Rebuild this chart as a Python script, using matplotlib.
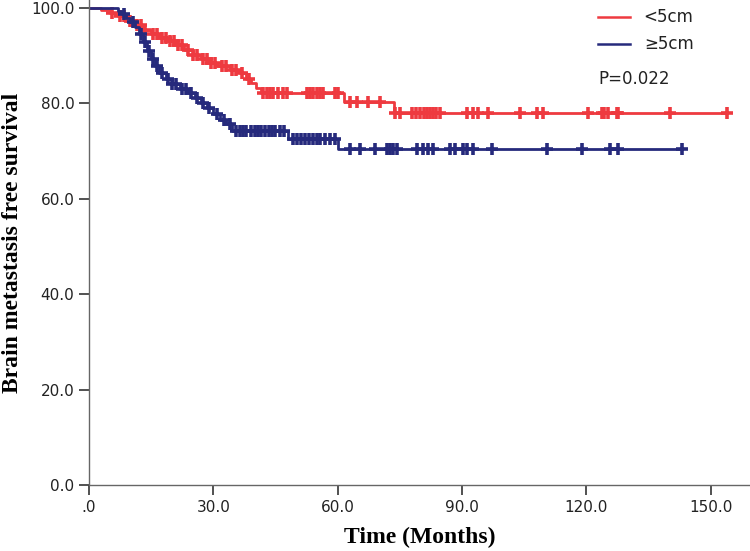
import numpy as np
import matplotlib
matplotlib.use("Agg")
import matplotlib.pyplot as plt

# step points (time, survival %) per group
red_t = [0, 3, 5, 7, 9, 11, 13, 15, 17, 19, 21, 23, 25, 27, 29, 31, 34, 36.5, 38, 39.2, 40.2, 41.5, 61.5, 73.5]
red_s = [100, 99.6, 99.0, 98.3, 97.4, 96.4, 95.4, 94.6, 93.8, 93.0, 92.2, 91.2, 90.2, 89.3, 88.5, 87.8, 87.1, 86.3, 85.2, 84.2, 83.2, 82.3, 80.3, 78.1]
red_end = 154

blue_t = [0, 7, 8, 9, 10, 11, 12, 13, 14, 15, 16, 17, 18.5, 20, 22, 24, 25.5, 27, 28.5, 30, 31.5, 33, 34.5, 48, 60]
blue_s = [100, 99.4, 98.7, 97.9, 97.0, 96.0, 94.6, 92.8, 91.0, 89.4, 87.8, 86.4, 85.2, 84.0, 83.0, 82.2, 81.2, 80.2, 79.0, 77.8, 76.6, 75.6, 74.2, 72.5, 70.4]
blue_end = 143

# censored times
red_cens = [5.5, 7.5, 8.5, 10, 11.5, 12.5, 13.5, 15.5, 16.5, 17.5, 18.5, 19.5, 20.5, 21.5, 22.5, 24, 25,
            26, 27.5, 28.5, 29.5, 30.5, 32, 33, 34.5, 35.5, 37, 38.5,
            42, 43, 43.7, 44.4, 45.6, 46.8, 47.8, 52.6, 53.3, 54.1, 55, 55.8, 56.5, 59.4, 60.1,
            63, 64.7, 67.3, 70.2,
            73.9, 75, 78, 78.8, 79.9, 80.8, 81.6, 82.3, 83, 83.8, 84.7, 91.2, 92.7, 93.9, 96.3,
            104, 108.1, 109.6, 120.4, 123.8, 124.2, 125.3, 127.4, 127.7, 140.2, 154]
blue_cens = [8.5, 10.5, 12.5, 13.5, 14.5, 15.5, 16.5, 17.5, 19, 20, 21, 22.5, 23.5, 24.5, 26, 27.5, 29, 31, 32.5, 34,
             35.5, 36.5, 37.2, 38, 39, 40, 40.8, 41.5, 42.5, 43.5, 44.2, 45, 46, 47,
             49.2, 50.2, 51.2, 52.1, 53.1, 54.1, 55, 55.8, 57, 58.2, 59.4,
             63, 65.4, 69, 71.9, 72.7, 73.4, 74.3, 79.2, 80.6, 81.8, 83, 87.1, 88.3, 90.3, 91.2,
             92.7, 97.3, 110.5, 119, 125.8, 127.7, 143]

x_ticks = [0, 30, 60, 90, 120, 150]
x_labels = ['.0', '30.0', '60.0', '90.0', '120.0', '150.0']
y_ticks = [0, 20, 40, 60, 80, 100]

red_c = '#EE3A40'
blue_c = '#262A7C'

fig = plt.figure(figsize=(7.5, 5.51), dpi=100)
ax = fig.add_axes([89 / 750, 66 / 551, 661 / 750, 485 / 551])


def draw(times, surv, end, cens, color):
    t = list(times) + [end]
    s = list(surv) + [surv[-1]]
    ax.step(t, s, where='post', color=color, lw=2.0)
    idx = np.searchsorted(times, cens, side='right') - 1
    ax.plot(cens, np.array(surv)[idx], ls='none', marker='+', ms=9, mew=2.6, color=color)


draw(red_t, red_s, red_end, red_cens, red_c)
draw(blue_t, blue_s, blue_end, blue_cens, blue_c)

ax.set_xlim(0, 159.5)
ax.set_ylim(0, 101.7)
ax.set_xticks(x_ticks)
ax.set_xticklabels(x_labels)
ax.set_yticks(y_ticks)
ax.set_yticklabels([f'{v:.1f}' for v in y_ticks])
for sp in ['top', 'right']:
    ax.spines[sp].set_visible(False)
for sp in ['left', 'bottom']:
    ax.spines[sp].set_color('#666666')
    ax.spines[sp].set_linewidth(1.0)
ax.tick_params(direction='out', length=7, width=1.2, color='#333333', labelsize=11, labelcolor='#222222')

ax.set_xlabel('Time (Months)', family='Liberation Serif', fontweight='bold', fontsize=17, labelpad=9)
ax.set_ylabel('Brain metastasis free survival', family='Liberation Serif', fontweight='bold', fontsize=17, labelpad=6)

# legend drawn by hand in figure coords
fig.lines.append(plt.Line2D([598 / 750, 630 / 750], [1 - 17 / 551] * 2, color=red_c, lw=1.8, transform=fig.transFigure))
fig.lines.append(plt.Line2D([598 / 750, 630 / 750], [1 - 44 / 551] * 2, color=blue_c, lw=1.8, transform=fig.transFigure))
fig.text(643 / 750, 1 - 17 / 551, '<5cm', fontsize=12, va='center', color='#222222')
fig.text(644 / 750, 1 - 44 / 551, '\u22655cm', fontsize=12, va='center', color='#222222')
fig.text(598 / 750, 1 - 79 / 551, 'P=0.022', fontsize=12, va='center', color='#222222')

fig.savefig('out.png', dpi=100)
